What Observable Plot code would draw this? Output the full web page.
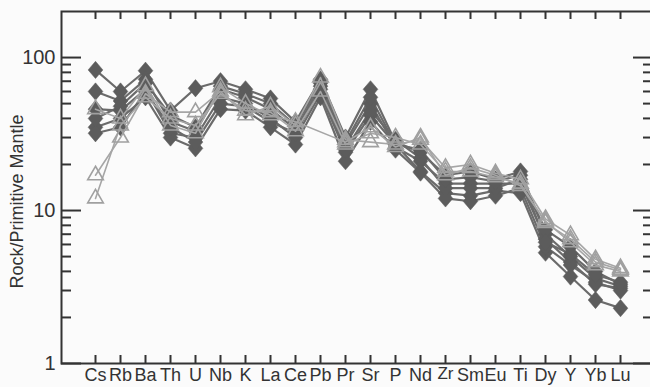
<!DOCTYPE html>
<html>
<head>
<meta charset="utf-8">
<script src="https://cdn.jsdelivr.net/npm/d3@7"></script>
<script src="https://cdn.jsdelivr.net/npm/@observablehq/plot@0.6"></script>
<style>
  html, body { margin: 0; padding: 0; background: #fbfbfb; }
  svg { display: block; }
</style>
</head>
<body>
<div id="chart"></div>
<script>
// Elements (x categories)
const elements = ["Cs","Rb","Ba","Th","U","Nb","K","La","Ce","Pb","Pr","Sr","P","Nd","Zr","Sm","Eu","Ti","Dy","Y","Yb","Lu"];

// Diamond samples (Rock / Primitive Mantle)
const dia1 = [83, 60, 82, 45, 63, 70, 62, 54, 38, 72, 30, 62, 28, 24, 17, 18, 16, 18, 7.0, 5.0, 3.6, 3.2];
const dia2 = [60, 52, 72, 38, 33, 62, 55, 46, 34, 65, 27, 50, 26, 21, 15, 15, 15, 15, 6.5, 4.6, 3.3, 3.1];
const dia3 = [46, 45, 62, 32, 30, 55, 50, 40, 30, 58, 24, 42, 27, 18, 13, 12.5, 13.5, 13, 5.3, 3.7, 2.6, 2.3];
const dia4 = [35, 40, 55, 30, 25.5, 46, 45, 35, 27, 55, 21, 38, 25, 17.7, 12, 11.5, 12.5, 14, 5.8, 4.4, 3.4, 3.0];
const dia5 = [32, 35, 60, 35, 28, 50, 48, 38, 32, 62, 25, 45, 29, 22, 14, 14, 14, 16, 7.5, 5.8, 4.0, 3.3];
const dia6 = [40, 48, 68, 42, 35, 65, 58, 50, 36, 68, 28, 55, 27, 25, 16, 16.5, 15.5, 17, 6.2, 5.2, 3.8, 3.4];

// Triangle samples
const tri1 = [17, 30, 58, 44, 44, 60, 42, 48, 36, 74, 29, 28, 27, 29, 19, 20, 17.5, 16, 8.8, 6.9, 4.8, 4.2];
const tri2 = [12, 36, 55, 40, 36, 58, 45, 44, 33, 60, 27, 32, 30, 27, 18, 18, 16.5, 15, 8.3, 6.5, 4.6, 4.1];
const tri3 = [46, 40, 65, 36, 32, 64, 50, 42, 38, null, 28, 35, 26, 30, 17, 19, 17, 14.5, 8.5, 6.2, 4.4, 4.0];

// Axis ticks
const majorTicks = [1, 10, 100];
const minorTicks = [2,3,4,5,6,7,8,9,20,30,40,50,60,70,80,90];
const yTitle = "Rock/Primitive Mantle";

function rows(list) {
  const out = [];
  list.forEach((vals, s) => vals.forEach((v, i) => {
    if (v != null) out.push({s, el: elements[i], v});
  }));
  return out;
}
const diaRows = rows([dia1, dia2, dia3, dia4, dia5, dia6]);
const triRows = rows([tri1, tri2, tri3]);

const diamondSym = {
  draw(context, size) {
    const r = Math.sqrt(size / Math.PI);
    const w = r * 0.92, h = r * 1.08;
    context.moveTo(0, -h);
    context.lineTo(w, 0);
    context.lineTo(0, h);
    context.lineTo(-w, 0);
    context.closePath();
  }
};

const W = 650, H = 387, mL = 61, mR = -3, mT = 11, mB = 24;
const pw = W - mL - mR, ph = H - mT - mB;
const axisCol = "#333";

const chart = Plot.plot({
  width: W, height: H,
  marginLeft: mL, marginRight: mR, marginTop: mT, marginBottom: mB,
  style: {background: "#fbfbfb", fontFamily: "'Liberation Sans', Arial, sans-serif", fontSize: "18px", color: axisCol, overflow: "visible"},
  x: {type: "point", domain: elements, padding: 1, axis: null},
  y: {type: "log", domain: [1, 200], axis: null},
  marks: [
    // inward ticks
    Plot.tickX(elements, {x: d => d, insetTop: ph - 8, stroke: axisCol, strokeWidth: 2}),
    Plot.tickX(elements, {x: d => d, insetBottom: ph - 8, stroke: axisCol, strokeWidth: 2}),
    Plot.tickY(majorTicks, {y: d => d, insetRight: pw - 20, stroke: axisCol, strokeWidth: 2}),
    Plot.tickY(minorTicks, {y: d => d, insetRight: pw - 10, stroke: axisCol, strokeWidth: 2}),
    Plot.tickY(majorTicks, {y: d => d, insetLeft: pw - 20, stroke: axisCol, strokeWidth: 2}),
    Plot.tickY(minorTicks, {y: d => d, insetLeft: pw - 10, stroke: axisCol, strokeWidth: 2}),
    // data
    Plot.line(diaRows, {x: "el", y: "v", z: "s", stroke: "#6b6b6b", strokeWidth: 2.2}),
    Plot.dot(diaRows, {x: "el", y: "v", symbol: diamondSym, r: 8, fill: "#5c5c5c", stroke: "#5c5c5c", strokeWidth: 0.5}),
    Plot.line(triRows, {x: "el", y: "v", z: "s", stroke: "#a6a6a6", strokeWidth: 1.6}),
    Plot.dot(triRows, {x: "el", y: "v", symbol: "triangle", r: 5.8, fill: "none", stroke: "#a0a0a0", strokeWidth: 1.6}),
    // frame
    Plot.frame({stroke: axisCol, strokeWidth: 2}),
    // axis labels
    Plot.axisX(elements.filter(e => e !== "Zr"), {anchor: "bottom", tickSize: 0, tickPadding: 5, label: null, fontSize: 18, fill: axisCol}),
    Plot.axisX(["Zr"], {anchor: "bottom", tickSize: 0, tickPadding: 5, dy: -2, label: null, fontSize: 17, fill: axisCol}),
    Plot.axisY(majorTicks, {anchor: "left", tickSize: 0, tickPadding: 6, tickFormat: d => String(d), label: null, fontSize: 20, fill: axisCol}),
    Plot.text([yTitle], {frameAnchor: "left", text: d => d, rotate: -90, dx: -44, dy: 14, fontSize: 18, fill: axisCol, textAnchor: "middle"})
  ]
});
document.getElementById("chart").appendChild(chart);
</script>
</body>
</html>
